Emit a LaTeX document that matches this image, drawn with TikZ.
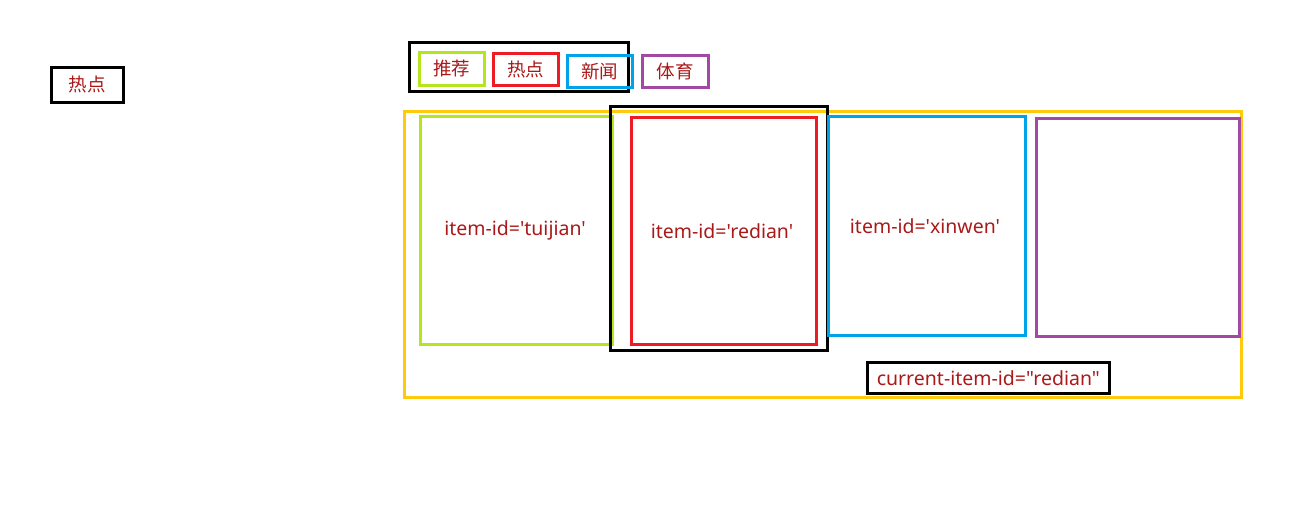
\documentclass[tikz,border=0pt]{standalone}
\usepackage{fontspec}
\setmainfont{Noto Sans CJK SC}
\newfontfamily\latinfont[Ligatures=NoCommon]{Noto Sans}
\begin{document}
\begin{tikzpicture}[x=1pt,y=-1pt,
  txt/.style={text={rgb,255:red,170;green,25;blue,25},font=\fontsize{18.5}{21}\selectfont,inner sep=0pt},
  ltxt/.style={txt,font=\latinfont\fontsize{19.5}{22}\selectfont},
  frame/.style={draw,line width=2.6pt,inner sep=0pt,anchor=north west},
  blk/.style={frame,draw=black},
  grn/.style={frame,draw={rgb,255:red,181;green,230;blue,29}},
  rd/.style={frame,draw={rgb,255:red,237;green,28;blue,36}},
  blu/.style={frame,draw={rgb,255:red,0;green,162;blue,232}},
  pur/.style={frame,draw={rgb,255:red,163;green,73;blue,164}},
  yel/.style={frame,draw={rgb,255:red,255;green,201;blue,14}}]
\useasboundingbox (0,0) rectangle (1314,506);
% left box
\node[blk,minimum width=72pt,minimum height=35pt] (lbox) at (50,66) {};
\node[txt] (ltxt) at (lbox.center) {热点};
% tabs
\node[blk,minimum width=219pt,minimum height=49pt] (tabframe) at (408,41) {};
\node[grn,minimum width=65pt,minimum height=33pt] (t1) at (418,51) {};
\node[txt] at (t1.center) {推荐};
\node[rd,minimum width=65pt,minimum height=32pt] (t2) at (492,52) {};
\node[txt] at (t2.center) {热点};
\node[blu,minimum width=65pt,minimum height=32pt] (t3) at (566,54) {};
\node[txt] at (t3.center) {新闻};
\node[pur,minimum width=66pt,minimum height=32pt] (t4) at (641,54) {};
\node[txt] at (t4.center) {体育};
% swiper
\node[yel,minimum width=837pt,minimum height=286pt] (swiper) at (403,110) {};
\node[grn,minimum width=192pt,minimum height=228pt] (p1) at (419,115) {};
\node[blk,minimum width=217pt,minimum height=244pt] (cur) at (609,105) {};
\node[rd,minimum width=185pt,minimum height=227pt] (p2) at (630,116) {};
\node[blu,minimum width=197pt,minimum height=219pt] (p3) at (827,115) {};
\node[pur,minimum width=203pt,minimum height=218pt] (p4) at (1035,117) {};
\node[ltxt] (l1) at (515,230) {item-id=\char"0027 tuijian\char"0027};
\node[ltxt] (l2) at (722,231) {item-id=\char"0027 redian\char"0027};
\node[ltxt] (l3) at (925,226) {item-id=\char"0027 xinwen\char"0027};
\node[blk,minimum width=242pt,minimum height=31pt] (cid) at (866,361) {};
\node[ltxt] at (cid.center) {current-item-id=\char"0022 redian\char"0022};
\end{tikzpicture}
\end{document}
